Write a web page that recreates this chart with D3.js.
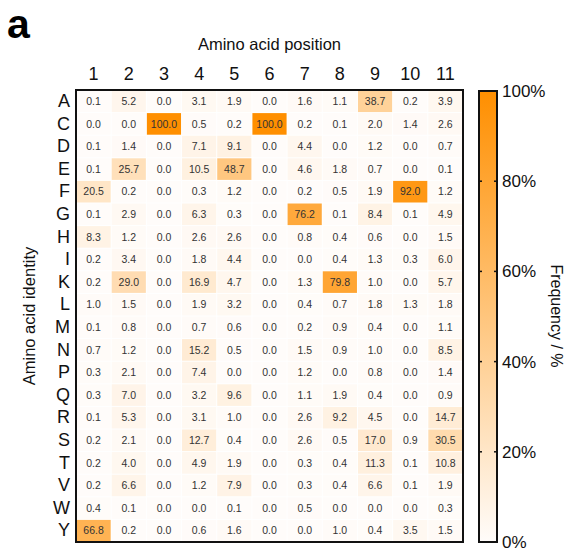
<!DOCTYPE html>
<html>
<head>
<meta charset="utf-8">
<script src="https://cdn.jsdelivr.net/npm/d3@7"></script>
<style>
  body { margin: 0; background: #fff; }
  text { font-family: "Liberation Sans", Arial, sans-serif; }
</style>
</head>
<body>
<script>
// amino acids (rows) and positions (columns)
var residues = ["A","C","D","E","F","G","H","I","K","L","M","N","P","Q","R","S","T","V","W","Y"];
var positions = ["1","2","3","4","5","6","7","8","9","10","11"];

// frequency (%) per residue, one value per position
var rowA = [0.1, 5.2, 0.0, 3.1, 1.9, 0.0, 1.6, 1.1, 38.7, 0.2, 3.9];
var rowC = [0.0, 0.0, 100.0, 0.5, 0.2, 100.0, 0.2, 0.1, 2.0, 1.4, 2.6];
var rowD = [0.1, 1.4, 0.0, 7.1, 9.1, 0.0, 4.4, 0.0, 1.2, 0.0, 0.7];
var rowE = [0.1, 25.7, 0.0, 10.5, 48.7, 0.0, 4.6, 1.8, 0.7, 0.0, 0.1];
var rowF = [20.5, 0.2, 0.0, 0.3, 1.2, 0.0, 0.2, 0.5, 1.9, 92.0, 1.2];
var rowG = [0.1, 2.9, 0.0, 6.3, 0.3, 0.0, 76.2, 0.1, 8.4, 0.1, 4.9];
var rowH = [8.3, 1.2, 0.0, 2.6, 2.6, 0.0, 0.8, 0.4, 0.6, 0.0, 1.5];
var rowI = [0.2, 3.4, 0.0, 1.8, 4.4, 0.0, 0.0, 0.4, 1.3, 0.3, 6.0];
var rowK = [0.2, 29.0, 0.0, 16.9, 4.7, 0.0, 1.3, 79.8, 1.0, 0.0, 5.7];
var rowL = [1.0, 1.5, 0.0, 1.9, 3.2, 0.0, 0.4, 0.7, 1.8, 1.3, 1.8];
var rowM = [0.1, 0.8, 0.0, 0.7, 0.6, 0.0, 0.2, 0.9, 0.4, 0.0, 1.1];
var rowN = [0.7, 1.2, 0.0, 15.2, 0.5, 0.0, 1.5, 0.9, 1.0, 0.0, 8.5];
var rowP = [0.3, 2.1, 0.0, 7.4, 0.0, 0.0, 1.2, 0.0, 0.8, 0.0, 1.4];
var rowQ = [0.3, 7.0, 0.0, 3.2, 9.6, 0.0, 1.1, 1.9, 0.4, 0.0, 0.9];
var rowR = [0.1, 5.3, 0.0, 3.1, 1.0, 0.0, 2.6, 9.2, 4.5, 0.0, 14.7];
var rowS = [0.2, 2.1, 0.0, 12.7, 0.4, 0.0, 2.6, 0.5, 17.0, 0.9, 30.5];
var rowT = [0.2, 4.0, 0.0, 4.9, 1.9, 0.0, 0.3, 0.4, 11.3, 0.1, 10.8];
var rowV = [0.2, 6.6, 0.0, 1.2, 7.9, 0.0, 0.3, 0.4, 6.6, 0.1, 1.9];
var rowW = [0.4, 0.1, 0.0, 0.0, 0.1, 0.0, 0.5, 0.0, 0.0, 0.0, 0.3];
var rowY = [66.8, 0.2, 0.0, 0.6, 1.6, 0.0, 0.0, 1.0, 0.4, 3.5, 1.5];

var colorbarTicks = [0, 20, 40, 60, 80, 100];

var rows = [rowA,rowC,rowD,rowE,rowF,rowG,rowH,rowI,rowK,rowL,rowM,rowN,rowP,rowQ,rowR,rowS,rowT,rowV,rowW,rowY];

var cells = [];
rows.forEach(function(r, i) {
  r.forEach(function(v, j) {
    cells.push({ res: residues[i], pos: positions[j], value: v });
  });
});

var W = 572, H = 552;
var gx0 = 76, gx1 = 463, gy0 = 90, gy1 = 542;

var svg = d3.select("body").append("svg")
  .attr("width", W).attr("height", H);

var x = d3.scaleBand().domain(positions).range([gx0, gx1]);
var y = d3.scaleBand().domain(residues).range([gy0, gy1]);

var lowColor = "#fffcfa", highColor = "#ff8f00";
var color = d3.scaleLinear().domain([0, 100]).range([lowColor, highColor]);

// panel letter
svg.append("text")
  .attr("x", 7).attr("y", 38)
  .attr("font-size", 41).attr("font-weight", "bold")
  .text("a");

// cells
svg.append("g").selectAll("rect")
  .data(cells).enter().append("rect")
  .attr("x", function(d) { return x(d.pos) + 0.5; })
  .attr("y", function(d) { return y(d.res) + 0.5; })
  .attr("width", x.bandwidth() - 1)
  .attr("height", y.bandwidth() - 1)
  .attr("fill", function(d) { return color(d.value); });

svg.append("g").selectAll("text")
  .data(cells).enter().append("text")
  .attr("x", function(d) { return x(d.pos) + x.bandwidth() / 2; })
  .attr("y", function(d) { return y(d.res) + y.bandwidth() / 2; })
  .attr("dy", "0.35em")
  .attr("text-anchor", "middle")
  .attr("font-size", 10.5)
  .attr("fill", "#333")
  .text(function(d) { return d.value.toFixed(1); });

// frame
svg.append("rect")
  .attr("x", gx0).attr("y", gy0)
  .attr("width", gx1 - gx0).attr("height", gy1 - gy0)
  .attr("fill", "none").attr("stroke", "#111").attr("stroke-width", 2);

// column labels
var xAxis = svg.append("g")
  .attr("transform", "translate(0," + (gy0 - 10) + ")")
  .call(d3.axisTop(x).tickSize(0).tickPadding(0));
xAxis.select(".domain").remove();
xAxis.selectAll("text").attr("font-size", 18).attr("font-family", null).attr("fill", "#111");

// row labels
var yAxis = svg.append("g")
  .attr("transform", "translate(" + (gx0 - 6) + ",0)")
  .call(d3.axisLeft(y).tickSize(0).tickPadding(0));
yAxis.select(".domain").remove();
yAxis.selectAll("text").attr("font-size", 18).attr("font-family", null).attr("fill", "#111");

svg.append("text")
  .attr("x", (gx0 + gx1) / 2).attr("y", 50)
  .attr("text-anchor", "middle")
  .attr("font-size", 16.5)
  .attr("fill", "#111")
  .text("Amino acid position");

svg.append("text")
  .attr("transform", "translate(35," + ((gy0 + gy1) / 2) + ") rotate(-90)")
  .attr("text-anchor", "middle")
  .attr("font-size", 16.5)
  .attr("fill", "#111")
  .text("Amino acid identity");

// colorbar
var cbx0 = 479, cbx1 = 497;
var cbScale = d3.scaleLinear().domain([0, 100]).range([gy1, gy0 + 1]);

var grad = svg.append("defs").append("linearGradient")
  .attr("id", "cbgrad")
  .attr("x1", 0).attr("y1", 1).attr("x2", 0).attr("y2", 0);
grad.append("stop").attr("offset", "0%").attr("stop-color", lowColor);
grad.append("stop").attr("offset", "100%").attr("stop-color", highColor);

svg.append("rect")
  .attr("x", cbx0).attr("y", cbScale(100))
  .attr("width", cbx1 - cbx0).attr("height", cbScale(0) - cbScale(100))
  .attr("fill", "url(#cbgrad)")
  .attr("stroke", "#111").attr("stroke-width", 2);

var cbTicks = svg.append("g").selectAll("g")
  .data(colorbarTicks.filter(function(t) { return t > 0 && t < 100; }))
  .enter().append("g");
cbTicks.append("line")
  .attr("x1", cbx0).attr("x2", cbx0 + 3)
  .attr("y1", function(d) { return cbScale(d); })
  .attr("y2", function(d) { return cbScale(d); })
  .attr("stroke", "#111").attr("stroke-width", 1.5);
cbTicks.append("line")
  .attr("x1", cbx1 - 3).attr("x2", cbx1)
  .attr("y1", function(d) { return cbScale(d); })
  .attr("y2", function(d) { return cbScale(d); })
  .attr("stroke", "#111").attr("stroke-width", 1.5);

svg.append("g").selectAll("text")
  .data(colorbarTicks).enter().append("text")
  .attr("x", cbx1 + 5)
  .attr("y", function(d) { return cbScale(d); })
  .attr("dy", "0.35em")
  .attr("font-size", 17)
  .attr("fill", "#111")
  .text(function(d) { return d + "%"; });

svg.append("text")
  .attr("transform", "translate(551," + ((gy0 + gy1) / 2) + ") rotate(90)")
  .attr("text-anchor", "middle")
  .attr("font-size", 16)
  .attr("fill", "#111")
  .text("Frequency / %");
</script>
</body>
</html>
